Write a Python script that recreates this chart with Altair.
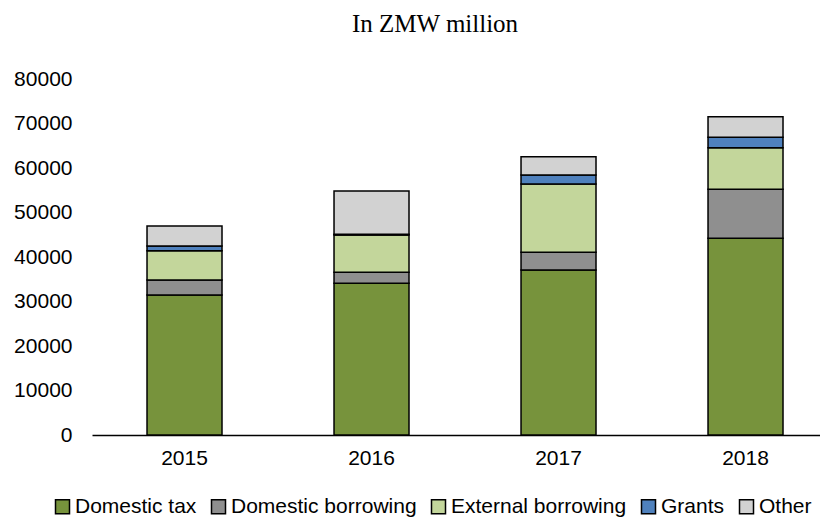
import altair as alt
import pandas as pd

years = ["2015", "2016", "2017", "2018"]
sources = ["Domestic tax", "Domestic borrowing", "External borrowing", "Grants", "Other"]
domestic_tax = [31460, 34090, 37080, 44200]
domestic_borrowing = [3370, 2470, 3970, 11010]
external_borrowing = [6570, 8380, 15350, 9350]
grants = [1070, 200, 2030, 2340]
other = [4500, 9690, 4110, 4630]
colors = ["#77933C", "#8F8F8F", "#C3D69B", "#4F81BD", "#D2D2D2"]

series = [domestic_tax, domestic_borrowing, external_borrowing, grants, other]
rows = []
for k, (name, vals) in enumerate(zip(sources, series)):
    for y, v in zip(years, vals):
        rows.append({"year": y, "source": name, "value": v, "order": k})
df = pd.DataFrame(rows)

chart = alt.Chart(df).mark_bar(stroke="black", strokeWidth=1.5).encode(
    x=alt.X(
        "year:N", sort=years, title=None,
        scale=alt.Scale(paddingInner=0.599, paddingOuter=0.246, align=0.598),
        axis=alt.Axis(labelAngle=0, ticks=False, domainColor="black", domainWidth=1.5,
                      labelFont="Liberation Sans", labelFontSize=21, labelColor="black",
                      labelPadding=12),
    ),
    y=alt.Y(
        "value:Q", stack="zero", title=None,
        scale=alt.Scale(domain=[0, 80000], nice=False),
        axis=alt.Axis(values=list(range(0, 80001, 10000)), format="d", grid=False,
                      domain=False, ticks=False, labelPadding=20,
                      labelFont="Liberation Sans", labelFontSize=21, labelColor="black"),
    ),
    color=alt.Color(
        "source:N", sort=sources,
        scale=alt.Scale(domain=sources, range=colors),
        legend=alt.Legend(orient="none", legendX=-40, legendY=417, direction="horizontal",
                          title=None, symbolType="square", symbolSize=196,
                          symbolStrokeColor="black", symbolStrokeWidth=1.5,
                          symbolOpacity=1, labelFont="Liberation Sans", labelFontSize=21,
                          labelColor="black", columnPadding=11, labelOffset=2,
                          labelLimit=400),
    ),
    order=alt.Order("order:Q", sort="ascending"),
).properties(
    width=728, height=356,
    title=alt.TitleParams("In ZMW million", font="Liberation Serif", fontSize=25,
                          fontWeight="normal", color="black", anchor="middle",
                          dx=-21, offset=31),
    autosize=alt.AutoSizeParams(type="none"),
    padding={"left": 84, "top": 71, "right": 0, "bottom": 82},
).configure_view(stroke=None)

chart.save("out.html", embed_options={"renderer": "svg", "actions": False})
